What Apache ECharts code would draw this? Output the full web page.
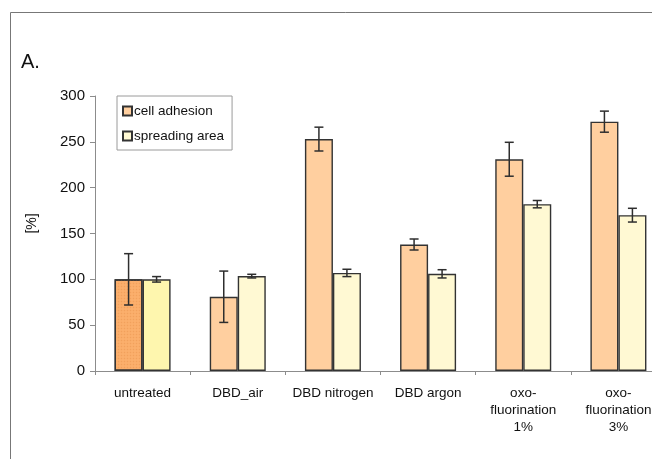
<!DOCTYPE html>
<html>
<head>
<meta charset="utf-8">
<script src="https://cdn.jsdelivr.net/npm/echarts@6/dist/echarts.min.js"></script>
<style>
  html, body { margin: 0; padding: 0; background: #fff; overflow: hidden; }
  /* the plot runs past the right edge of the window, so the canvas is wider than the page */
  #chart { width: 680px; height: 459px; }
</style>
</head>
<body>
<div id="chart"></div>
<script>
// Treatment groups along the x axis
const categories = ['untreated', 'DBD_air', 'DBD nitrogen', 'DBD argon', 'oxo-\nfluorination\n1%', 'oxo-\nfluorination\n3%'];
// Mean values in % of untreated control
const cellAdhesion = [100, 81, 253, 138, 231, 272];
const spreadingArea = [100, 103.5, 107, 106, 182, 170];
// Standard deviations (error bar half-lengths)
const cellAdhesionErr = [28, 28, 13, 6, 18.5, 11.5];
const spreadingAreaErr = [3, 2, 4, 4.5, 4, 7.5];
// Value axis ticks
const yTicks = [0, 50, 100, 150, 200, 250, 300];

const FONT = 'Liberation Sans, Arial, sans-serif';
const BAR_W = 28;

const chart = echarts.init(document.getElementById('chart'), null, { renderer: 'canvas' });

// Error bar renderer: vertical whisker with caps, shifted to the bar's slot
function errorRenderer(values, errs, shift) {
  return function (params, api) {
    const i = api.value(0);
    const v = values[i], e = errs[i];
    const top = api.coord([i, v + e]);
    const bot = api.coord([i, v - e]);
    const x = top[0] + shift;
    const cap = 4.5;
    const style = { stroke: '#2e2e2e', lineWidth: 1.5 };
    return {
      type: 'group',
      children: [
        { type: 'line', shape: { x1: x, y1: top[1], x2: x, y2: bot[1] }, style },
        { type: 'line', shape: { x1: x - cap, y1: top[1], x2: x + cap, y2: top[1] }, style },
        { type: 'line', shape: { x1: x - cap, y1: bot[1], x2: x + cap, y2: bot[1] }, style }
      ]
    };
  };
}

const adhesionData = cellAdhesion.map((v, i) => i === 0
  ? { value: v, itemStyle: { color: '#FBAF6C', decal: { symbol: 'circle', symbolSize: 0.5, dashArrayX: [3, 0], dashArrayY: [3, 0], color: 'rgba(235,150,80,0.55)' } } }
  : v);
const spreadingData = spreadingArea.map((v, i) => i === 0
  ? { value: v, itemStyle: { color: '#FEF6AE' } }
  : v);

chart.setOption({
  animation: false,
  backgroundColor: '#ffffff',
  grid: { left: 95, top: 96, height: 275, width: 571, containLabel: false },
  legend: {
    orient: 'vertical',
    left: 117,
    top: 96,
    width: 113,
    padding: [8, 8, 7, 5],
    itemGap: 11,
    itemWidth: 9,
    itemHeight: 9,
    icon: 'rect',
    borderColor: '#9a9a9a',
    borderWidth: 1,
    backgroundColor: '#fff',
    textStyle: { fontFamily: FONT, fontSize: 13.5, color: '#111', padding: [0, 0, 0, -3] },
    data: ['cell adhesion', 'spreading area']
  },
  xAxis: {
    type: 'category',
    data: categories,
    boundaryGap: true,
    axisLine: { lineStyle: { color: '#8c8c8c', width: 1 } },
    axisTick: { show: true, length: 4, lineStyle: { color: '#8c8c8c' } },
    axisLabel: { interval: 0, margin: 14, fontFamily: FONT, fontSize: 13.5, color: '#111', lineHeight: 17 }
  },
  yAxis: {
    type: 'value',
    min: yTicks[0],
    max: yTicks[yTicks.length - 1],
    interval: 50,
    name: '[%]',
    nameLocation: 'middle',
    nameRotate: 90,
    nameGap: 56,
    nameMoveOverlap: false,
    nameTextStyle: { fontFamily: FONT, fontSize: 14, color: '#111', padding: [0, 0, 0, 20] },
    axisLine: { show: true, lineStyle: { color: '#8c8c8c', width: 1 } },
    axisTick: { show: true, length: 5, lineStyle: { color: '#8c8c8c' } },
    splitLine: { show: false },
    axisLabel: { margin: 10, fontFamily: FONT, fontSize: 15, color: '#111' }
  },
  graphic: [
    { type: 'polyline', shape: { points: [[10.5, 459], [10.5, 12.5], [680, 12.5]] }, style: { stroke: '#777', lineWidth: 1, fill: null } },
    { type: 'text', left: 21, top: 52, style: { text: 'A.', font: '20px ' + FONT, fill: '#111' } }
  ],
  series: [
    {
      name: 'cell adhesion',
      type: 'bar',
      data: adhesionData,
      barWidth: BAR_W,
      barGap: '0%',
      itemStyle: { color: '#FFCF9F', borderColor: '#333', borderWidth: 1.4 }
    },
    {
      name: 'spreading area',
      type: 'bar',
      data: spreadingData,
      barWidth: BAR_W,
      barGap: '0%',
      itemStyle: { color: '#FFF9D3', borderColor: '#333', borderWidth: 1.4 }
    },
    {
      type: 'custom',
      data: cellAdhesion.map((v, i) => [i, v]),
      renderItem: errorRenderer(cellAdhesion, cellAdhesionErr, -BAR_W / 2),
      z: 5,
      silent: true
    },
    {
      type: 'custom',
      data: spreadingArea.map((v, i) => [i, v]),
      renderItem: errorRenderer(spreadingArea, spreadingAreaErr, BAR_W / 2),
      z: 5,
      silent: true
    }
  ]
});
</script>
</body>
</html>
